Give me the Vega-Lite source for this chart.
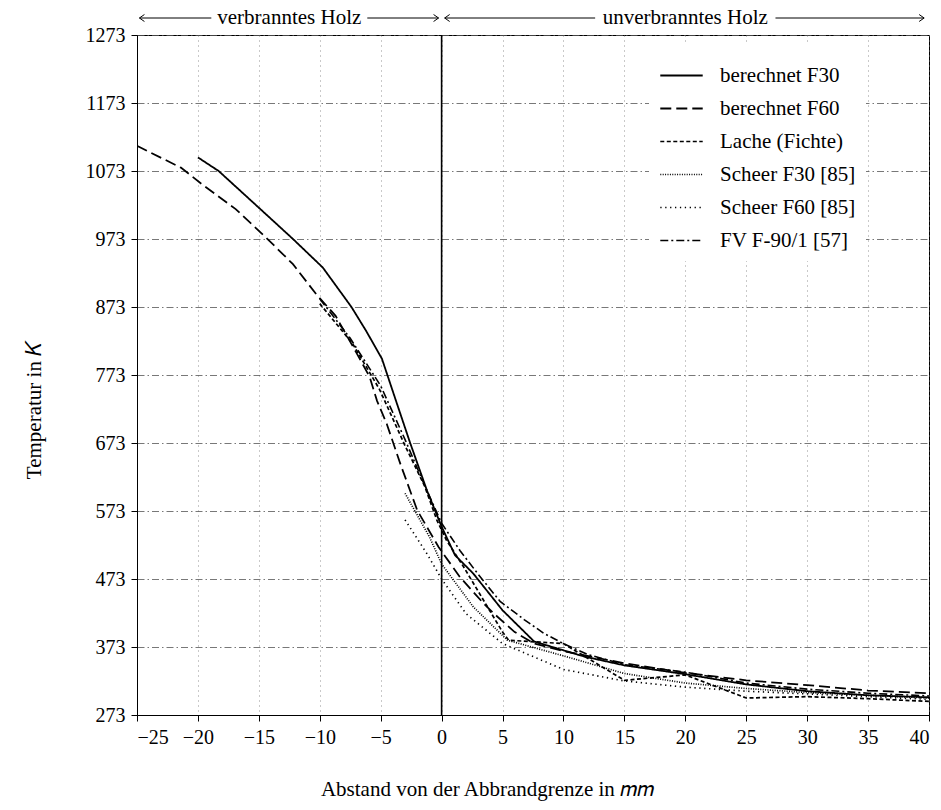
{
  "$schema": "https://vega.github.io/schema/vega-lite/v6.json",
  "width": 792,
  "height": 680,
  "autosize": {"type": "none"},
  "padding": {"left": 137, "top": 35, "right": 12, "bottom": 95},
  "background": "white",
  "datasets": {
    "series": [
      {"s": "berechnet F30", "x": -20, "T": 1093},
      {"s": "berechnet F30", "x": -18.3, "T": 1073},
      {"s": "berechnet F30", "x": -15, "T": 1019},
      {"s": "berechnet F30", "x": -12.2, "T": 973},
      {"s": "berechnet F30", "x": -9.75, "T": 931},
      {"s": "berechnet F30", "x": -7.4, "T": 873},
      {"s": "berechnet F30", "x": -6.2, "T": 838},
      {"s": "berechnet F30", "x": -4.9, "T": 797},
      {"s": "berechnet F30", "x": -3.8, "T": 738},
      {"s": "berechnet F30", "x": -2.6, "T": 674},
      {"s": "berechnet F30", "x": -1.2, "T": 603},
      {"s": "berechnet F30", "x": 0, "T": 550},
      {"s": "berechnet F30", "x": 1.1, "T": 508},
      {"s": "berechnet F30", "x": 2.6, "T": 481},
      {"s": "berechnet F30", "x": 5, "T": 427},
      {"s": "berechnet F30", "x": 7.6, "T": 381},
      {"s": "berechnet F30", "x": 11.7, "T": 359},
      {"s": "berechnet F30", "x": 15, "T": 346},
      {"s": "berechnet F30", "x": 20, "T": 333},
      {"s": "berechnet F30", "x": 25, "T": 318},
      {"s": "berechnet F30", "x": 30, "T": 308},
      {"s": "berechnet F30", "x": 35, "T": 302},
      {"s": "berechnet F30", "x": 40, "T": 299},

      {"s": "berechnet F60", "x": -25, "T": 1110},
      {"s": "berechnet F60", "x": -21.4, "T": 1078},
      {"s": "berechnet F60", "x": -19.7, "T": 1054},
      {"s": "berechnet F60", "x": -16.9, "T": 1017},
      {"s": "berechnet F60", "x": -14.4, "T": 975},
      {"s": "berechnet F60", "x": -12.2, "T": 936},
      {"s": "berechnet F60", "x": -10.3, "T": 892},
      {"s": "berechnet F60", "x": -8.7, "T": 860},
      {"s": "berechnet F60", "x": -7, "T": 806},
      {"s": "berechnet F60", "x": -5.9, "T": 770},
      {"s": "berechnet F60", "x": -5.3, "T": 735},
      {"s": "berechnet F60", "x": -4.5, "T": 701},
      {"s": "berechnet F60", "x": -3.4, "T": 643},
      {"s": "berechnet F60", "x": -2, "T": 574},
      {"s": "berechnet F60", "x": -0.25, "T": 520},
      {"s": "berechnet F60", "x": 1.5, "T": 476},
      {"s": "berechnet F60", "x": 3.5, "T": 436},
      {"s": "berechnet F60", "x": 4.3, "T": 422},
      {"s": "berechnet F60", "x": 6, "T": 395},
      {"s": "berechnet F60", "x": 7.6, "T": 378},
      {"s": "berechnet F60", "x": 10, "T": 367},
      {"s": "berechnet F60", "x": 15, "T": 349},
      {"s": "berechnet F60", "x": 20, "T": 335},
      {"s": "berechnet F60", "x": 25, "T": 324},
      {"s": "berechnet F60", "x": 30, "T": 317},
      {"s": "berechnet F60", "x": 35, "T": 309},
      {"s": "berechnet F60", "x": 40, "T": 305},

      {"s": "Lache (Fichte)", "x": -10, "T": 878},
      {"s": "Lache (Fichte)", "x": -7.3, "T": 819},
      {"s": "Lache (Fichte)", "x": -5.1, "T": 752},
      {"s": "Lache (Fichte)", "x": -3, "T": 669},
      {"s": "Lache (Fichte)", "x": -1.4, "T": 610},
      {"s": "Lache (Fichte)", "x": -0.4, "T": 560},
      {"s": "Lache (Fichte)", "x": 0.4, "T": 530},
      {"s": "Lache (Fichte)", "x": 1.8, "T": 491},
      {"s": "Lache (Fichte)", "x": 3.5, "T": 440},
      {"s": "Lache (Fichte)", "x": 5, "T": 395},
      {"s": "Lache (Fichte)", "x": 5.5, "T": 383},
      {"s": "Lache (Fichte)", "x": 10, "T": 378},
      {"s": "Lache (Fichte)", "x": 15, "T": 324},
      {"s": "Lache (Fichte)", "x": 20, "T": 332},
      {"s": "Lache (Fichte)", "x": 25, "T": 298},
      {"s": "Lache (Fichte)", "x": 30, "T": 300},
      {"s": "Lache (Fichte)", "x": 35, "T": 297},
      {"s": "Lache (Fichte)", "x": 40, "T": 293},

      {"s": "Scheer F30 [85]", "x": -3, "T": 599},
      {"s": "Scheer F30 [85]", "x": -1, "T": 535},
      {"s": "Scheer F30 [85]", "x": 0, "T": 495},
      {"s": "Scheer F30 [85]", "x": 2.6, "T": 432},
      {"s": "Scheer F30 [85]", "x": 5.4, "T": 383},
      {"s": "Scheer F30 [85]", "x": 10, "T": 360},
      {"s": "Scheer F30 [85]", "x": 15, "T": 334},
      {"s": "Scheer F30 [85]", "x": 20, "T": 320},
      {"s": "Scheer F30 [85]", "x": 25, "T": 312},
      {"s": "Scheer F30 [85]", "x": 30, "T": 306},
      {"s": "Scheer F30 [85]", "x": 35, "T": 302},
      {"s": "Scheer F30 [85]", "x": 40, "T": 298},

      {"s": "Scheer F60 [85]", "x": -3, "T": 560},
      {"s": "Scheer F60 [85]", "x": -1.2, "T": 510},
      {"s": "Scheer F60 [85]", "x": 0, "T": 473},
      {"s": "Scheer F60 [85]", "x": 2, "T": 422},
      {"s": "Scheer F60 [85]", "x": 5, "T": 378},
      {"s": "Scheer F60 [85]", "x": 10, "T": 340},
      {"s": "Scheer F60 [85]", "x": 15, "T": 323},
      {"s": "Scheer F60 [85]", "x": 20, "T": 314},
      {"s": "Scheer F60 [85]", "x": 25, "T": 308},
      {"s": "Scheer F60 [85]", "x": 30, "T": 304},
      {"s": "Scheer F60 [85]", "x": 35, "T": 300},
      {"s": "Scheer F60 [85]", "x": 40, "T": 296},

      {"s": "FV F-90/1 [57]", "x": -10, "T": 885},
      {"s": "FV F-90/1 [57]", "x": -7.5, "T": 827},
      {"s": "FV F-90/1 [57]", "x": -5, "T": 757},
      {"s": "FV F-90/1 [57]", "x": -3, "T": 678},
      {"s": "FV F-90/1 [57]", "x": -1.5, "T": 615},
      {"s": "FV F-90/1 [57]", "x": 0, "T": 555},
      {"s": "FV F-90/1 [57]", "x": 1.5, "T": 515},
      {"s": "FV F-90/1 [57]", "x": 3, "T": 480},
      {"s": "FV F-90/1 [57]", "x": 4.8, "T": 440},
      {"s": "FV F-90/1 [57]", "x": 6.8, "T": 413},
      {"s": "FV F-90/1 [57]", "x": 8.4, "T": 393},
      {"s": "FV F-90/1 [57]", "x": 10, "T": 378},
      {"s": "FV F-90/1 [57]", "x": 12, "T": 362},
      {"s": "FV F-90/1 [57]", "x": 15, "T": 347},
      {"s": "FV F-90/1 [57]", "x": 20, "T": 336},
      {"s": "FV F-90/1 [57]", "x": 25, "T": 320},
      {"s": "FV F-90/1 [57]", "x": 30, "T": 311},
      {"s": "FV F-90/1 [57]", "x": 35, "T": 305},
      {"s": "FV F-90/1 [57]", "x": 40, "T": 301}
    ],
    "labels": [
      {"x": -12.5, "T": 1298, "label": "verbranntes Holz"},
      {"x": 20, "T": 1298, "label": "unverbranntes Holz"}
    ],
    "arrows": [
      {"x": -24.8, "x2": -18.9, "T": 1298},
      {"x": -6.1, "x2": -0.25, "T": 1298},
      {"x": 0.25, "x2": 12.6, "T": 1298},
      {"x": 27.4, "x2": 39.6, "T": 1298}
    ],
    "heads": [
      {"x": -24.8, "T": 1298, "dir": "L"},
      {"x": -0.25, "T": 1298, "dir": "R"},
      {"x": 0.25, "T": 1298, "dir": "L"},
      {"x": 39.6, "T": 1298, "dir": "R"}
    ],
    "zero": [{"x": 0}]
  },
  "layer": [
    {
      "data": {"name": "zero"},
      "mark": {"type": "rule", "color": "black", "strokeWidth": 1.6},
      "encoding": {
        "x": {"field": "x", "type": "quantitative", "scale": {"domain": [-25, 40], "nice": false, "zero": false},
          "axis": {"values": [-25,-20,-15,-10,-5,0,5,10,15,20,25,30,35,40], "format": "d", "title": "Abstand von der Abbrandgrenze in 𝑚𝑚",
            "gridDash": [1, 4], "gridColor": "#777", "titleX": 350, "titleY": 74, "titleBaseline": "middle", "titleAlign": "center"}}
      }
    },
    {
      "data": {"name": "series"},
      "mark": {"type": "line", "color": "black", "clip": true},
      "encoding": {
        "x": {"field": "x", "type": "quantitative"},
        "y": {"field": "T", "type": "quantitative", "scale": {"domain": [273, 1273], "nice": false, "zero": false},
          "axis": {"values": [273,373,473,573,673,773,873,973,1073,1173,1273], "format": "d", "title": "Temperatur in 𝐾",
            "gridDash": [7, 3, 1.5, 3], "gridColor": "#555", "titleX": -103, "titleY": 375, "titleBaseline": "middle", "titleAlign": "center", "titleAngle": 270}},
        "strokeDash": {"field": "s", "type": "nominal",
          "scale": {"domain": ["berechnet F30", "berechnet F60", "Lache (Fichte)", "Scheer F30 [85]", "Scheer F60 [85]", "FV F-90/1 [57]"],
            "range": [[1, 0], [11, 5], [4, 2.5], [1, 1.4], [1.3, 3.6], [8, 3, 2, 3]]},
          "legend": {"title": null, "orient": "none", "legendX": 512, "legendY": 8}},
        "strokeWidth": {"field": "s", "type": "nominal",
          "scale": {"domain": ["berechnet F30", "berechnet F60", "Lache (Fichte)", "Scheer F30 [85]", "Scheer F60 [85]", "FV F-90/1 [57]"],
            "range": [1.8, 1.6, 1.4, 1.3, 1.4, 1.3]},
          "legend": null}
      }
    },
    {
      "data": {"name": "labels"},
      "mark": {"type": "text", "font": "Liberation Serif", "fontSize": 21, "baseline": "middle", "align": "center", "color": "black"},
      "encoding": {
        "x": {"field": "x", "type": "quantitative"},
        "y": {"field": "T", "type": "quantitative"},
        "text": {"field": "label"}
      }
    },
    {
      "data": {"name": "arrows"},
      "mark": {"type": "rule", "color": "black", "strokeWidth": 1},
      "encoding": {
        "x": {"field": "x", "type": "quantitative"},
        "x2": {"field": "x2"},
        "y": {"field": "T", "type": "quantitative"}
      }
    },
    {
      "data": {"name": "heads"},
      "mark": {"type": "point", "filled": false, "stroke": "black", "strokeWidth": 1, "opacity": 1},
      "encoding": {
        "x": {"field": "x", "type": "quantitative"},
        "y": {"field": "T", "type": "quantitative"},
        "shape": {"field": "dir", "type": "nominal",
          "scale": {"domain": ["L", "R"], "range": ["M0,0L1,-0.7M0,0L1,0.7", "M0,0L-1,-0.7M0,0L-1,0.7"]},
          "legend": null},
        "size": {"value": 100}
      }
    }
  ],
  "config": {
    "view": {"stroke": "black", "strokeWidth": 1},
    "axis": {
      "labelFont": "Liberation Serif", "labelFontSize": 20, "labelColor": "black",
      "titleFont": "Liberation Serif", "titleFontSize": 21, "titleFontWeight": "normal", "titleColor": "black",
      "domainColor": "black", "tickColor": "black", "tickSize": 6, "labelPadding": 6,
      "grid": true, "gridWidth": 0.8, "gridOpacity": 1
    },
    "legend": {
      "labelFont": "Liberation Serif", "labelFontSize": 21, "labelColor": "black",
      "symbolType": "stroke", "symbolSize": 1800, "symbolStrokeWidth": 1.6, "symbolStrokeColor": "black",
      "labelOffset": 16, "rowPadding": 0,
      "fillColor": "white", "padding": 10, "strokeColor": null
    }
  }
}
